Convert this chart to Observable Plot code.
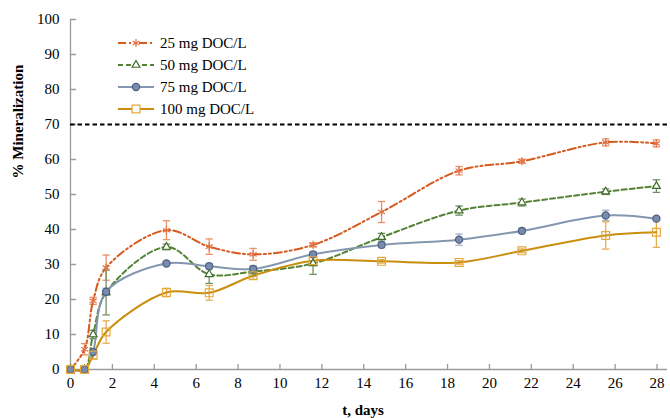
<!DOCTYPE html>
<html>
<head>
<meta charset="utf-8">
<script src="https://cdn.jsdelivr.net/npm/d3@7"></script>
<script src="https://cdn.jsdelivr.net/npm/@observablehq/plot@0.6"></script>
<style>
  body { margin: 0; background: #fff; }
  #wrap { position: relative; width: 670px; height: 418px; font-family: "Liberation Serif", "Times New Roman", serif; }
  #legend { position: absolute; left: 116px; top: 32px; }
  .lg-row { display: flex; align-items: center; height: 22px; font-size: 15px; color: #000; }
  .lg-row svg { margin-right: 4px; }
</style>
</head>
<body>
<div id="wrap"><div id="chart"></div><div id="legend"></div></div>
<script>
// ---- data ----
const days   = [0, 0.67, 1.08, 1.7, 4.58, 6.62, 8.72, 11.58, 14.85, 18.55, 21.55, 25.55, 27.97];
const mg25   = [0, 5.8, 19.6, 29.1, 39.8, 35.1, 32.9, 35.6, 45.0, 56.8, 59.5, 64.9, 64.6];
const err25  = [0, 1.6, 1.0, 3.6, 2.7, 2.2, 1.7, 0.6, 3.0, 1.2, 0.6, 1.0, 1.0];
const mg50   = [0, 0, 10.0, 22.0, 35.0, 27.2, 28.0, 30.3, 37.8, 45.4, 47.7, 50.8, 52.4];
const err50  = [0, 0, 1.2, 6.4, 0.8, 2.6, 1.3, 3.1, 1.1, 1.3, 1.0, 0.8, 1.8];
const mg75   = [0, 0, 5.0, 22.2, 30.3, 29.5, 28.7, 32.9, 35.6, 37.1, 39.6, 44.0, 43.1];
const err75  = [0, 0, 0.5, 1.0, 0.5, 0.8, 1.0, 0.8, 0.8, 1.6, 0.8, 1.5, 0.5];
const mg100  = [0, 0, 4.1, 10.7, 22.0, 21.9, 26.8, 31.1, 30.9, 30.6, 33.9, 38.3, 39.2];
const err100 = [0, 0, 1.0, 3.2, 1.2, 2.1, 1.0, 1.0, 0.5, 0.5, 0.5, 3.9, 4.3];
const seriesNames = ["25 mg DOC/L", "50 mg DOC/L", "75 mg DOC/L", "100 mg DOC/L"];
const threshold = [70];
const xTicks = d3.range(0, 29, 2);
const yTicks = d3.range(0, 101, 10);

// ---- styles ----
const styles = [
  {line: "#D65A1E", dash: "8,3,2,3,2,3", err: "#E9916A", symbol: "asterisk", fill: "none", mstroke: "#E37448", r: 3.8},
  {line: "#548235", dash: "5,3", err: "#6F8F62", symbol: "triangle", fill: "white", mstroke: "#3F6B2A", r: 2.9},
  {line: "#8497B0", dash: null, err: "#A5B3C8", symbol: "circle", fill: "#7A8CAD", mstroke: "#4D5E80", r: 3.6},
  {line: "#C98E0E", dash: null, err: "#E6AE50", symbol: "square", fill: "none", mstroke: "#E6A83A", r: 4.4}
];
const vals = [mg25, mg50, mg75, mg100];
const errs = [err25, err50, err75, err100];

const rows = [];
seriesNames.forEach((s, i) => days.forEach((d, j) => rows.push({s, i, day: d, v: vals[i][j], e: errs[i][j]})));

const cap = {draw(ctx, size) { const w = Math.sqrt(size / Math.PI); ctx.moveTo(-w, 0); ctx.lineTo(w, 0); }};
const tickUp = {draw(ctx, l) { ctx.moveTo(0, 0); ctx.lineTo(0, -l); }};

const marks = [];
const axisColor = "#9b9b9b";
marks.push(Plot.ruleY([0], {stroke: axisColor, strokeWidth: 1.3}));
marks.push(Plot.ruleX([0], {stroke: axisColor, strokeWidth: 1.3}));
marks.push(Plot.vector(xTicks, {x: d => d, y: 0, length: 5, rotate: 0, anchor: "start", shape: tickUp, stroke: axisColor, strokeWidth: 1.3}));
marks.push(Plot.vector(yTicks, {x: 0, y: d => d, length: 5, rotate: 90, anchor: "start", shape: tickUp, stroke: axisColor, strokeWidth: 1.3}));
marks.push(Plot.axisX({ticks: xTicks, tickSize: 0, tickPadding: 8, label: null, fontSize: 15}));
marks.push(Plot.axisY({ticks: yTicks, tickSize: 0, tickPadding: 11, label: null, fontSize: 15}));
marks.push(Plot.ruleY(threshold, {stroke: "#000", strokeWidth: 2, strokeDasharray: "4.5,3"}));

seriesNames.forEach((s, i) => {
  const st = styles[i];
  const data = rows.filter(r => r.i === i);
  const ed = data.filter(r => r.e > 0);
  marks.push(Plot.ruleX(ed, {x: "day", y1: r => r.v - r.e, y2: r => r.v + r.e, stroke: st.err, strokeWidth: 1.3}));
  marks.push(Plot.dot(ed, {x: "day", y: r => r.v - r.e, symbol: cap, r: 3.7, stroke: st.err, strokeWidth: 1.3}));
  marks.push(Plot.dot(ed, {x: "day", y: r => r.v + r.e, symbol: cap, r: 3.7, stroke: st.err, strokeWidth: 1.3}));
  marks.push(Plot.line(data, {x: "day", y: "v", curve: "catmull-rom", stroke: st.line, strokeWidth: 2, strokeDasharray: st.dash}));
});
seriesNames.forEach((s, i) => {
  const st = styles[i];
  const data = rows.filter(r => r.i === i);
  marks.push(Plot.dot(data, {x: "day", y: "v", symbol: st.symbol, r: st.r, fill: st.fill, stroke: st.mstroke, strokeWidth: 1.2}));
});

marks.push(Plot.text(["% Mineralization"], {frameAnchor: "left", rotate: -90, dx: -52, dy: -16, fontWeight: "bold", fontSize: 15}));
marks.push(Plot.text(["t, days"], {frameAnchor: "bottom", dx: -6, dy: 41, lineAnchor: "middle", fontWeight: "bold", fontSize: 15}));

const chart = Plot.plot({
  width: 670, height: 418,
  marginLeft: 70, marginRight: 3, marginTop: 19, marginBottom: 49,
  x: {domain: [0, 28.5]},
  y: {domain: [0, 100]},
  style: {fontFamily: "Liberation Serif, Times New Roman, serif", fontSize: "15px", color: "#000", background: "white"},
  marks
});
document.getElementById("chart").appendChild(chart);

// ---- legend ----
const legend = d3.select("#legend");
seriesNames.forEach((s, i) => {
  const st = styles[i];
  const row = legend.append("div").attr("class", "lg-row");
  const svg = row.append("svg").attr("width", 40).attr("height", 14);
  svg.append("line").attr("x1", 2).attr("x2", 38).attr("y1", 7).attr("y2", 7)
    .attr("stroke", st.line).attr("stroke-width", 2).attr("stroke-dasharray", st.dash);
  const symMap = {asterisk: d3.symbolAsterisk, triangle: d3.symbolTriangle, circle: d3.symbolCircle, square: d3.symbolSquare};
  svg.append("path").attr("transform", "translate(20,7)")
    .attr("d", d3.symbol(symMap[st.symbol], Math.PI * st.r * st.r)())
    .attr("fill", st.fill === "none" ? "white" : st.fill).attr("stroke", st.mstroke).attr("stroke-width", 1.2);
  row.append("span").text(s);
});
</script>
</body>
</html>
